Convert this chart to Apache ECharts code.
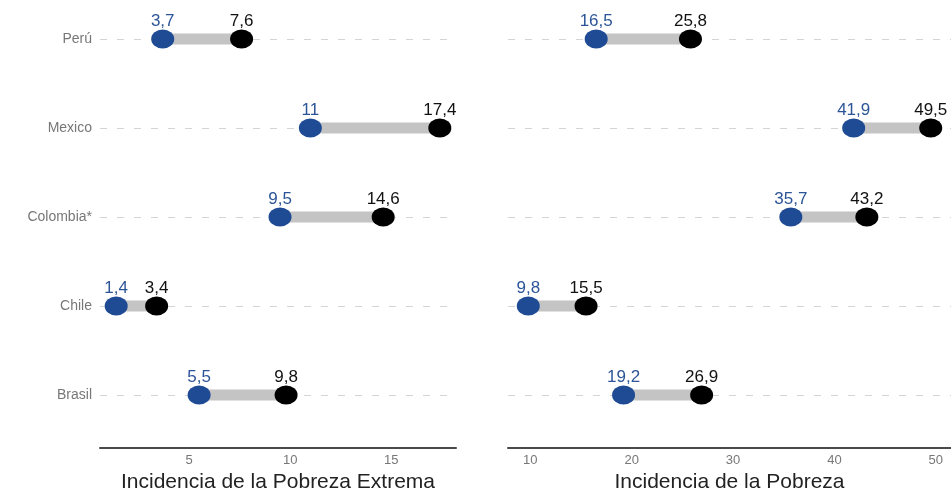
<!DOCTYPE html>
<html>
<head>
<meta charset="utf-8">
<script src="https://cdn.jsdelivr.net/npm/echarts@6/dist/echarts.min.js"></script>
<style>html,body{margin:0;padding:0;background:#fff;}#c{width:951px;height:489px;}</style>
</head>
<body>
<div id="c"></div>
<script>
var countries = ['Brasil', 'Chile', 'Colombia*', 'Mexico', 'Perú'];
var extremaLow  = [5.5, 1.4, 9.5, 11, 3.7];
var extremaHigh = [9.8, 3.4, 14.6, 17.4, 7.6];
var pobrezaLow  = [19.2, 9.8, 35.7, 41.9, 16.5];
var pobrezaHigh = [26.9, 15.5, 43.2, 49.5, 25.8];
var ticksLeft = [5, 10, 15];
var ticksRight = [10, 20, 30, 40, 50];

var BLUE = '#1f4a94', BLACK = '#000000', SEG = '#c4c4c4';
var FONT = 'Liberation Sans, Arial, sans-serif';
var fmt = function (v) { return String(v).replace('.', ','); };

function pairs(vals) { return vals.map(function (v, i) { return [v, countries[i]]; }); }
function segs(lo, hi) { return lo.map(function (v, i) { return [v, hi[i], countries[i]]; }); }

function segSeries(idx, lo, hi) {
  return {
    type: 'custom', xAxisIndex: idx, yAxisIndex: idx, z: 2,
    data: segs(lo, hi),
    encode: { x: [0, 1], y: 2 },
    renderItem: function (params, api) {
      var p1 = api.coord([api.value(0), api.value(2)]);
      var p2 = api.coord([api.value(1), api.value(2)]);
      return { type: 'line', shape: { x1: p1[0], y1: p1[1], x2: p2[0], y2: p2[1] },
               style: { stroke: SEG, lineWidth: 11 } };
    }
  };
}
function ptSeries(idx, vals, color) {
  return {
    type: 'scatter', xAxisIndex: idx, yAxisIndex: idx, z: 3,
    symbol: 'circle', symbolSize: [23, 19],
    itemStyle: { color: color, opacity: 1 },
    data: pairs(vals),
    label: { show: true, position: 'top', distance: 0, color: color === BLUE ? '#2c5597' : '#111',
             fontSize: 17, fontFamily: FONT,
             formatter: function (p) { return fmt(p.value[0]); } }
  };
}
function xAx(idx, min, max, ticks, name) {
  return {
    type: 'value', gridIndex: idx, min: min, max: max, offset: 53,
    name: name, nameLocation: 'middle', nameGap: 21,
    nameTextStyle: { fontSize: 21, color: '#222', fontFamily: FONT },
    axisLine: { show: true, lineStyle: { color: '#4a4a4a', width: 2 } },
    axisTick: { show: false },
    splitLine: { show: false },
    axisLabel: { customValues: ticks, color: '#777', fontSize: 13, margin: 6, fontFamily: FONT }
  };
}
function yAx(idx, showLabels) {
  return {
    type: 'category', gridIndex: idx, data: countries, boundaryGap: false,
    axisLine: { show: false }, axisTick: { show: false },
    axisLabel: { show: showLabels, color: '#777', fontSize: 14, margin: 8, fontFamily: FONT },
    splitLine: { show: true, lineStyle: { color: '#d4d4d4', type: [7, 10], width: 1 } }
  };
}

var chart = echarts.init(document.getElementById('c'));
chart.setOption({
  animation: false,
  grid: [
    { left: 100, width: 356, top: 39, height: 356, outerBoundsMode: 'none', containLabel: false },
    { left: 508, width: 443, top: 39, height: 356, outerBoundsMode: 'none', containLabel: false }
  ],
  xAxis: [
    xAx(0, 0.6, 18.2, ticksLeft, 'Incidencia de la Pobreza Extrema'),
    xAx(1, 7.8, 51.5, ticksRight, 'Incidencia de la Pobreza')
  ],
  yAxis: [yAx(0, true), yAx(1, false)],
  series: [
    segSeries(0, extremaLow, extremaHigh),
    ptSeries(0, extremaLow, BLUE),
    ptSeries(0, extremaHigh, BLACK),
    segSeries(1, pobrezaLow, pobrezaHigh),
    ptSeries(1, pobrezaLow, BLUE),
    ptSeries(1, pobrezaHigh, BLACK)
  ]
});
</script>
</body>
</html>
